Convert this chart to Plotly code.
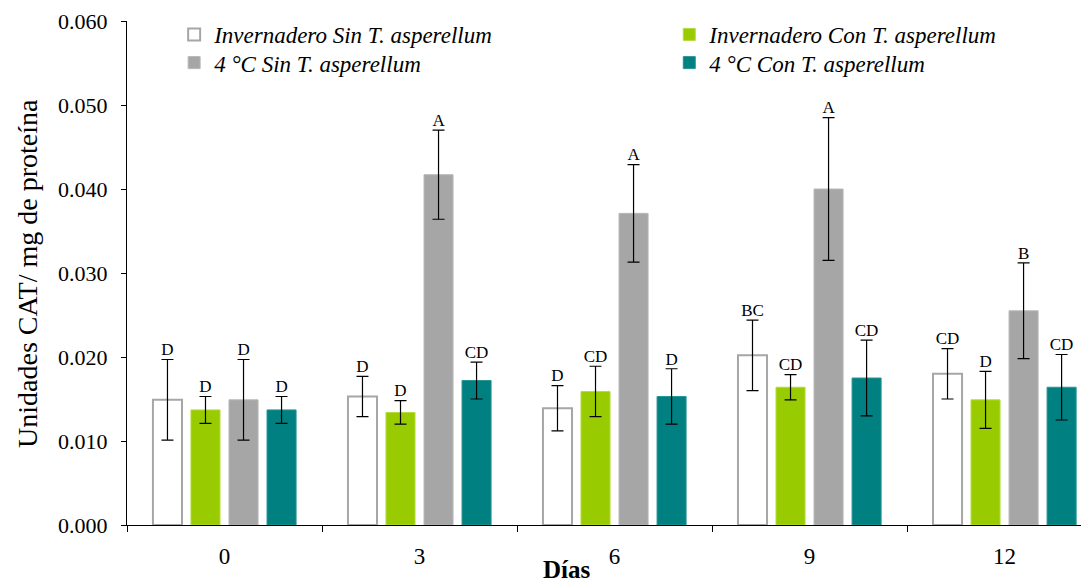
import plotly.graph_objects as go

dias = ["0", "3", "6", "9", "12"]
series_names = [
    "Invernadero Sin T. asperellum",
    "Invernadero Con T. asperellum",
    "4 °C Sin T. asperellum",
    "4 °C Con T. asperellum",
]
inv_sin = [0.0149, 0.0153, 0.0139, 0.0202, 0.0180]
inv_con = [0.0137, 0.0134, 0.0159, 0.0164, 0.0149]
c4_sin = [0.0149, 0.0417, 0.0371, 0.0400, 0.0255]
c4_con = [0.0137, 0.0172, 0.0153, 0.0175, 0.0164]
err_inv_sin = [0.0048, 0.0024, 0.0027, 0.0042, 0.0030]
err_inv_con = [0.0016, 0.0014, 0.0030, 0.0015, 0.0034]
err_c4_sin = [0.0048, 0.0053, 0.0058, 0.0085, 0.0057]
err_c4_con = [0.0016, 0.0022, 0.0033, 0.0045, 0.0039]
lab_inv_sin = ["D", "D", "D", "BC", "CD"]
lab_inv_con = ["D", "D", "CD", "CD", "D"]
lab_c4_sin = ["D", "A", "A", "A", "B"]
lab_c4_con = ["D", "CD", "D", "CD", "CD"]

values = [inv_sin, inv_con, c4_sin, c4_con]
errors = [err_inv_sin, err_inv_con, err_c4_sin, err_c4_con]
labels = [lab_inv_sin, lab_inv_con, lab_c4_sin, lab_c4_con]
fills = ["#FFFFFF", "#99CC00", "#A6A6A6", "#008080"]
outlines = ["#A6A6A6", "#B5DB3F", "#B8B8B8", "#2A9494"]
outline_w = [2, 1, 1, 1]
legend_ids = ["legend", "legend2", "legend3", "legend4"]
legend_x = [0.049, 0.5637, 0.049, 0.5637]
legend_y = [1.016, 1.016, 0.960, 0.960]

FONT = "Liberation Serif, Times New Roman, serif"
xs = list(range(len(dias)))
pitch = 0.195
bw = 0.149

fig = go.Figure()
for i in range(4):
    off = -2 * pitch + i * pitch + (pitch - bw) / 2
    fig.add_trace(go.Bar(
        x=xs, y=values[i], name="<i>" + series_names[i] + "</i>",
        width=bw, offset=off, legend=legend_ids[i],
        marker=dict(color=fills[i], line=dict(color=outlines[i], width=outline_w[i])),
        error_y=dict(type="data", array=errors[i], visible=True,
                     color="black", thickness=1.2, width=6),
    ))
for i in range(4):
    center = -2 * pitch + i * pitch + pitch / 2
    fig.add_trace(go.Scatter(
        x=[x + center for x in xs],
        y=[v + e for v, e in zip(values[i], errors[i])],
        mode="text", text=labels[i], textposition="top center",
        textfont=dict(family=FONT, size=17, color="black"),
        showlegend=False, cliponaxis=False, hoverinfo="skip",
    ))

legends = {}
for i in range(4):
    legends[legend_ids[i]] = dict(
        x=legend_x[i], y=legend_y[i], orientation="v", yanchor="top", xanchor="left",
        font=dict(family=FONT, size=23), itemwidth=30,
        bgcolor="rgba(0,0,0,0)", tracegroupgap=0)

fig.update_layout(
    width=1081, height=574,
    margin=dict(l=119, r=0, t=13, b=57),
    paper_bgcolor="white", plot_bgcolor="white",
    font=dict(family=FONT, color="black", size=18),
    barmode="overlay",
    showlegend=True,
    annotations=[
        dict(text="<b>Días</b>", xref="paper", yref="paper",
             x=0.457, y=-0.057, xanchor="center", yanchor="top",
             showarrow=False, font=dict(family=FONT, size=25)),
        dict(text="Unidades CAT/ mg de proteína", xref="paper", yref="paper",
             x=-0.104, y=0.5, xanchor="center", yanchor="middle", textangle=-90,
             showarrow=False, font=dict(family=FONT, size=28)),
    ],
    **legends,
)
fig.update_xaxes(
    range=[-0.5, 4.433], tickmode="array", tickvals=xs, ticktext=dias,
    ticks="", showline=True, linecolor="black", linewidth=1.3,
    showgrid=False, zeroline=False, ticklabelstandoff=10, automargin=False,
    tickfont=dict(family=FONT, size=23),
    minor=dict(tickmode="array", tickvals=[x - 0.5 for x in xs] + [4.5],
               ticks="outside", ticklen=6, tickcolor="black", tickwidth=1.3),
)
fig.update_yaxes(
    range=[0, 0.06], dtick=0.01, tickformat=".3f",
    ticks="outside", ticklen=5, tickcolor="black", tickwidth=1.3,
    showline=True, linecolor="black", linewidth=1.3,
    showgrid=False, zeroline=False, ticklabelstandoff=9, automargin=False,
    tickfont=dict(family=FONT, size=22),
)
fig.write_html("out.html")
